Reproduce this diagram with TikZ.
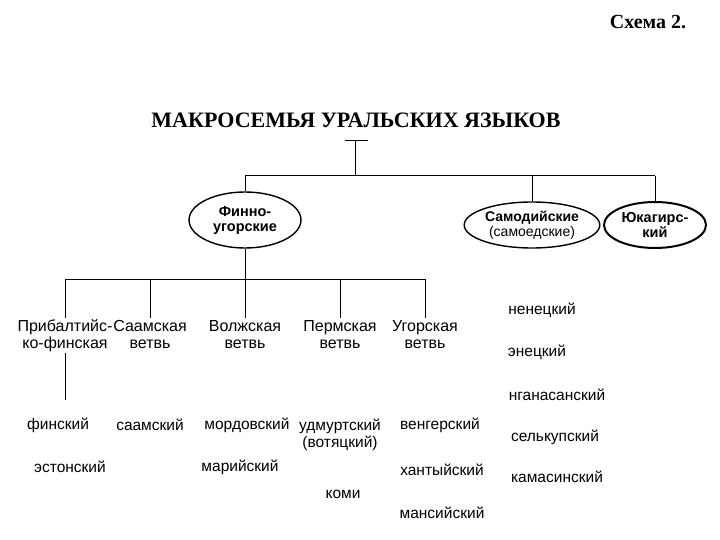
\documentclass[tikz,border=0pt]{standalone}
\usepackage{fontspec}
\setmainfont{Liberation Sans}
\newfontfamily\serif{Liberation Serif}
\usetikzlibrary{shapes.geometric}
\begin{document}
\begin{tikzpicture}[x=1pt,y=-1pt,
  ln/.style={line width=1pt},
  lbl/.style={align=center,font=\fontsize{16}{17}\selectfont,inner sep=1pt,anchor=north},
  lang/.style={font=\fontsize{15.5}{17}\selectfont,inner sep=1pt,align=center},
  ell/.style={ellipse,draw,line width=1.4pt,align=center,font=\bfseries\fontsize{14.5}{15}\selectfont,inner sep=1pt}]
\useasboundingbox (0,0) rectangle (720,540);
\node[font=\serif\bfseries\fontsize{20}{22}\selectfont] (sch) at (648,22) {Схема 2.};
\node[font=\serif\bfseries\fontsize{22}{24}\selectfont] (title) at (356,120) {МАКРОСЕМЬЯ УРАЛЬСКИХ ЯЗЫКОВ};
\coordinate (t1) at (345,141); \coordinate (t2) at (368,141);
\coordinate (top) at (355,141); \coordinate (hub) at (355,176);
\draw[ln] (t1)--(t2); \draw[ln] (top)--(hub);
\node[ell,minimum width=112,minimum height=56] (fu) at (245,220) {Финно-\\угорские};
\node[ell,minimum width=118,minimum height=46,font=\fontsize{14}{15}\selectfont] (sam) at (532,225) {\textbf{Самодийские}\\(самоедские)};
\node[ell,minimum width=102,minimum height=46,line width=2pt] (yu) at (655,225) {Юкагирс-\\кий};
\coordinate (hl) at (245,176); \coordinate (hr) at (655,176); \coordinate (hs) at (532,176);
\draw[ln] (hl)--(hr);
\draw[ln] (hl)--(fu.north); \draw[ln] (hs)--(sam.north); \draw[ln] (hr)--(yu.north);
\coordinate (b) at (245,279);
\draw[ln] (fu.south)--(b);
\foreach \n/\x/\t in {p/65/{\strut Прибалтийс-\\ко-финская},s/150/{\strut Саамская\\ветвь},v/245/{\strut Волжская\\ветвь},pe/340/{\strut Пермская\\ветвь},u/425/{\strut Угорская\\ветвь}}{
  \node[lbl] (\n) at (\x,318) {\t};
  \coordinate (c\n) at (\x,279);
  \draw[ln] (c\n)--(\n.north);
}
\draw[ln] (cp)--(cu);
\node[lang] (fin) at (58,425) {финский};
\coordinate (pd) at (65,400);
\draw[ln] (p.south)--(pd);
\node[lang] (est) at (70,467) {эстонский};
\node[lang] (saa) at (150,425) {саамский};
\node[lang] (mor) at (247,425) {мордовский};
\node[lang] (mar) at (240,467) {марийский};
\node[lang] (udm) at (340,435) {удмуртский\\(вотяцкий)};
\node[lang] (komi) at (343,494) {коми};
\node[lang] (ven) at (440,425) {венгерский};
\node[lang] (han) at (442,470) {хантыйский};
\node[lang] (man) at (442,513) {мансийский};
\node[lang] (nen) at (542,310) {ненецкий};
\node[lang] (ene) at (537,352) {энецкий};
\node[lang] (ngn) at (557,395) {нганасанский};
\node[lang] (sel) at (555,437) {селькупский};
\node[lang] (kam) at (557,477) {камасинский};
\end{tikzpicture}
\end{document}
